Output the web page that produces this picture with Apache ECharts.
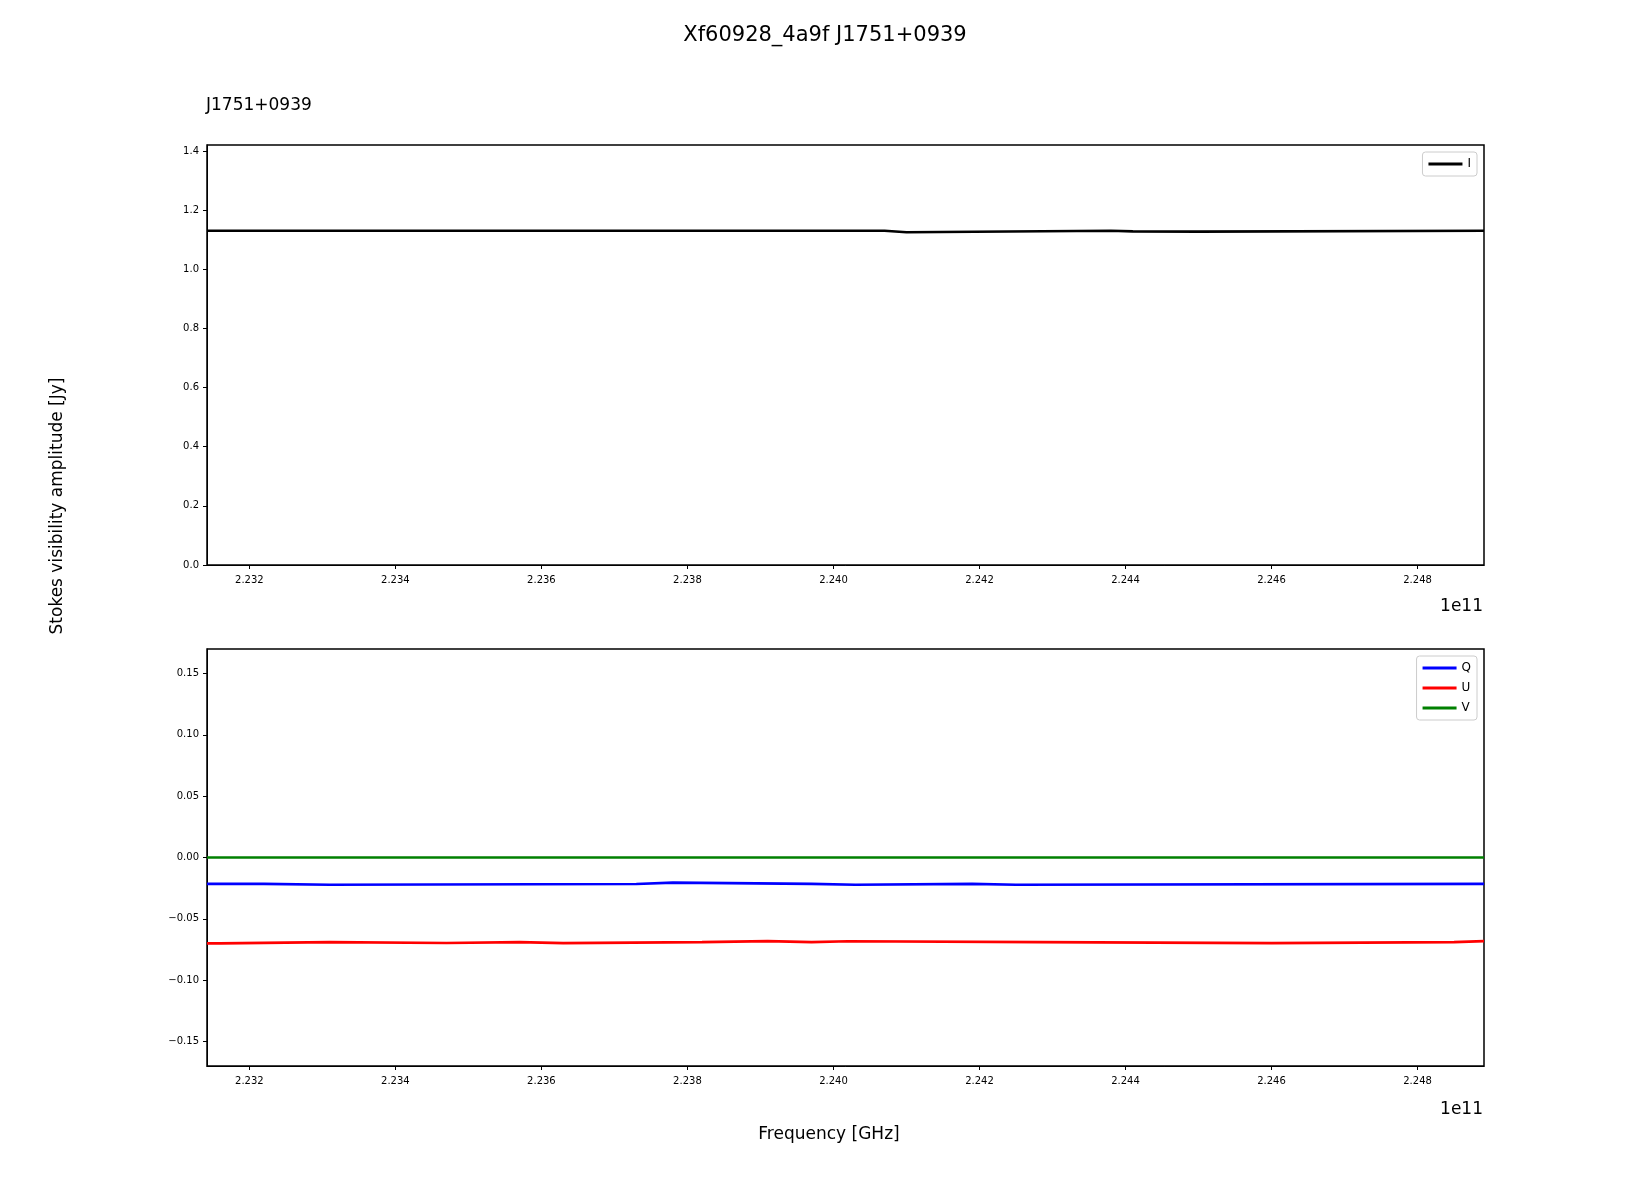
<!DOCTYPE html>
<html>
<head>
<meta charset="utf-8"/>
<title>Stokes</title>
<style>
*{margin:0;padding:0;}
html,body{width:1651px;height:1200px;background:#fff;}
#main{width:1651px;height:1200px;}
</style>
<script src="https://cdn.jsdelivr.net/npm/echarts@6/dist/echarts.min.js"></script>
</head>
<body>
<div id="main"></div>
<script>
// frequency in units of 1e11 Hz
var xMin = 2.23142, xMax = 2.24891;
var xTicks = [2.232, 2.234, 2.236, 2.238, 2.240, 2.242, 2.244, 2.246, 2.248];
var yTicksTop = [0, 0.2, 0.4, 0.6, 0.8, 1.0, 1.2, 1.4];
var yTicksBot = [-0.15, -0.10, -0.05, 0, 0.05, 0.10, 0.15];

// step breakpoints (start of each step) and values
var iEdges = [2.23142, 2.2407, 2.2410, 2.2438, 2.2441, 2.2450];
var iVals  = [1.130, 1.125, 1.130, 1.128, 1.127, 1.130];
var qEdges = [2.23142, 2.2322, 2.2331, 2.2373, 2.2378, 2.2397, 2.2403, 2.2419, 2.2425];
var qVals  = [-0.0215, -0.0222, -0.0216, -0.0205, -0.0215, -0.0222, -0.0215, -0.0222, -0.0215];
var uEdges = [2.23142, 2.2316, 2.2331, 2.2347, 2.2357, 2.2363, 2.2382, 2.2391, 2.2397, 2.2402, 2.2428, 2.2460, 2.2485];
var uVals  = [-0.0700, -0.0690, -0.0697, -0.0690, -0.0698, -0.0690, -0.0682, -0.0690, -0.0683, -0.0690, -0.0698, -0.0690, -0.0682];
var vEdges = [2.23142];
var vVals  = [0.0];

// each step held flat until the next edge
function steps(edges, vals){
	var out = [];
	for(var i=0;i<edges.length;i++){
		var next = i+1<edges.length ? edges[i+1] : xMax;
		out.push([edges[i], vals[i]]);
		out.push([next, vals[i]]);
	}
	return out;
}
function fmt(v, d){
	var s = v.toFixed(d);
	return v < 0 ? '\u2212' + s.slice(1) : s;
}
var tickFont = {fontFamily:'DejaVu Sans', fontSize:10, color:'#000'};
function xAxis(idx){
	return {
		type:'value', gridIndex:idx, min:xMin, max:xMax,
		axisLine:{show:true, onZero:false, lineStyle:{color:'#000'}},
		splitLine:{show:false},
		axisTick:{show:true, length:4, customValues:xTicks, lineStyle:{color:'#000'}},
		axisLabel:Object.assign({customValues:xTicks, margin:10, formatter:function(v){return v.toFixed(3);}}, tickFont)
	};
}
function yAxis(idx, min, max, ticks, d){
	return {
		type:'value', gridIndex:idx, min:min, max:max,
		axisLine:{show:true, lineStyle:{color:'#000'}},
		splitLine:{show:false},
		axisTick:{show:true, length:4, customValues:ticks, lineStyle:{color:'#000'}},
		axisLabel:Object.assign({customValues:ticks, margin:8, formatter:function(v){return fmt(v, d);}}, tickFont)
	};
}
function line(name, color, edges, vals, axis){
	return {
		name:name, type:'line', symbol:'none',
		xAxisIndex:axis, yAxisIndex:axis,
		data:steps(edges, vals),
		lineStyle:{color:color, width:2.6}, itemStyle:{color:color}
	};
}
var chart = echarts.init(document.getElementById('main'));
chart.setOption({
	animation:false,
	textStyle:{fontFamily:'DejaVu Sans'},
	title:[
		{text:'Xf60928_4a9f J1751+0939', left:820, top:20, textAlign:'center', textStyle:{fontSize:21, fontWeight:'normal', color:'#000'}},
		{text:'J1751+0939', left:201, top:92, textStyle:{fontSize:17, fontWeight:'normal', color:'#000'}},
		{text:'1e11', left:1478, top:593, textAlign:'right', textStyle:{fontSize:17, fontWeight:'normal', color:'#000'}},
		{text:'1e11', left:1478, top:1096, textAlign:'right', textStyle:{fontSize:17, fontWeight:'normal', color:'#000'}},
		{text:'Frequency [GHz]', left:824, top:1121, textAlign:'center', textStyle:{fontSize:17, fontWeight:'normal', color:'#000'}}
	],
	graphic:[{
		type:'text', x:58, y:506, rotation:Math.PI/2,
		style:{text:'Stokes visibility amplitude [Jy]', font:'17px DejaVu Sans', fill:'#000', align:'center', verticalAlign:'middle'}
	}],
	grid:[
		{left:207, right:167, top:145, height:420, show:true, borderColor:'#000', borderWidth:1.5},
		{left:207, right:167, top:649, height:417, show:true, borderColor:'#000', borderWidth:1.5}
	],
	legend:[
		{data:['I'], right:174, top:152, orient:'vertical', itemWidth:34, itemHeight:3, icon:'rect',
			borderColor:'#ccc', borderWidth:1, borderRadius:3, padding:[6,6,6,6], textStyle:{fontSize:12, color:'#000'}},
		{data:['Q','U','V'], right:174, top:656, orient:'vertical', itemWidth:34, itemHeight:3, itemGap:8, icon:'rect',
			borderColor:'#ccc', borderWidth:1, borderRadius:3, padding:[6,6,6,6], textStyle:{fontSize:12, color:'#000'}}
	],
	xAxis:[xAxis(0), xAxis(1)],
	yAxis:[yAxis(0, 0, 1.42, yTicksTop, 1), yAxis(1, -0.17, 0.17, yTicksBot, 2)],
	series:[
		line('I', '#000000', iEdges, iVals, 0),
		line('Q', '#0000ff', qEdges, qVals, 1),
		line('U', '#ff0000', uEdges, uVals, 1),
		line('V', '#008000', vEdges, vVals, 1)
	]
});
</script>
</body>
</html>
